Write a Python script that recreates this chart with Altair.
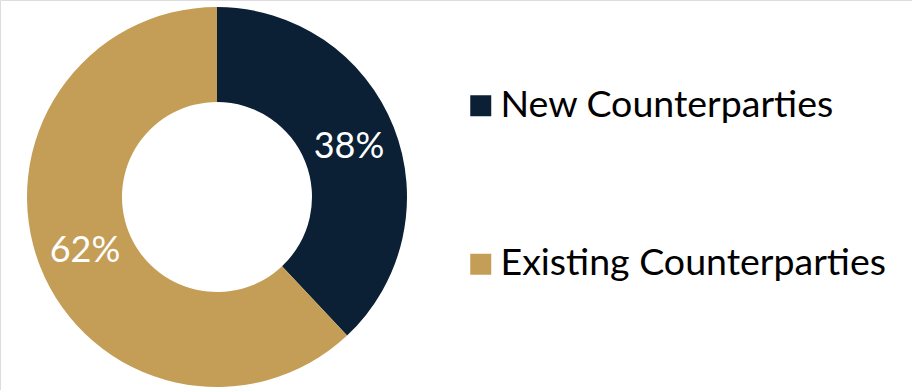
import altair as alt
import pandas as pd

categories = ["New Counterparties", "Existing Counterparties"]
values = [38, 62]
labels = ["38%", "62%"]
colors = ["#0B2035", "#C49E57"]

df = pd.DataFrame({"category": categories, "value": values, "label": labels, "order": [0, 1]})

base = alt.Chart(df).encode(
    theta=alt.Theta("value:Q", stack=True),
    order=alt.Order("order:Q"),
    x=alt.value(217),
    y=alt.value(197),
)

arc = base.mark_arc(outerRadius=190, innerRadius=95).encode(
    color=alt.Color(
        "category:N",
        sort=categories,
        scale=alt.Scale(domain=categories, range=colors),
        legend=alt.Legend(
            title=None,
            orient="none",
            legendX=462,
            legendY=87,
            symbolType="square",
            symbolSize=441,
            symbolStrokeWidth=0,
            labelFont="Lato",
            labelFontSize=37.5,
            labelColor="#000000",
            labelOffset=1,
            labelLimit=500,
            rowPadding=119.5,
        ),
    )
)

text = base.mark_text(radius=142, font="Lato", fontSize=36, color="white", baseline="middle", align="center", dy=2).encode(
    text="label:N"
)

chart = (arc + text).properties(
    width=912, height=390, autosize=alt.AutoSizeParams(type="none"), padding=0
).configure_view(stroke=None).configure(background="white")

chart.save("out.html", embed_options={"renderer": "svg", "actions": False})
